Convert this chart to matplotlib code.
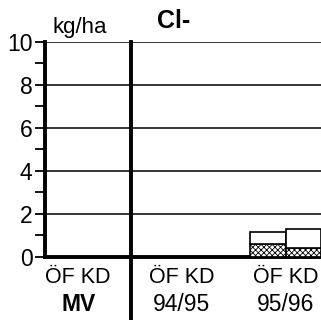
import numpy as np
import matplotlib.pyplot as plt

plt.rcParams['font.family'] = ['Liberation Sans', 'DejaVu Sans']
plt.rcParams['hatch.linewidth'] = 0.6

groups = ['MV', '94/95', '95/96']
bar_labels = 'ÖF KD'
# stacked values per group: [ÖF, KD]
lower = [[0, 0], [0, 0], [0.6, 0.4]]
upper = [[0, 0], [0, 0], [0.56, 0.9]]

fig = plt.figure(figsize=(3.21, 3.2), dpi=100)
ax = fig.add_axes([0.14, 0.197, 0.86, 0.672])

w = 0.34
x = np.arange(len(groups))
for i in range(len(groups)):
    for j in range(2):
        xpos = x[i] - w / 2 + j * w
        if lower[i][j] + upper[i][j] == 0:
            continue
        ax.bar(xpos, lower[i][j], w, color='white', edgecolor='black',
               hatch='xxxxxx', linewidth=1.2, zorder=3)
        ax.bar(xpos, upper[i][j], w, bottom=lower[i][j], color='white',
               edgecolor='black', linewidth=1.2, zorder=3)

ax.set_xlim(-0.32, 2.34)
ax.set_ylim(0, 10)
ax.set_yticks(range(0, 11, 2))
ax.set_yticks(range(1, 10, 2), minor=True)
ax.tick_params(axis='y', which='major', length=7, width=1.3, labelsize=16.5, direction='out', pad=2)
ax.tick_params(axis='y', which='minor', length=7, width=1.3, direction='out')
ax.set_xticks([])
for yv in range(2, 11, 2):
    ax.axhline(yv, color='black', linewidth=1.1, zorder=1)

for s in ['top', 'right']:
    ax.spines[s].set_visible(False)
ax.spines['left'].set_linewidth(2.8)
ax.spines['bottom'].set_linewidth(2.8)

# separator between MV and the years
ax.plot([0.51, 0.51], [10, -2.95], color='black', linewidth=2.8, clip_on=False, zorder=4)

for i, g in enumerate(groups):
    ax.text(x[i], -0.95, bar_labels, ha='center', va='center', fontsize=15.5)
    ax.text(x[i], -2.2, g, ha='center', va='center', fontsize=16.5,
            fontweight='bold' if g == 'MV' else 'normal')

fig.text(0.162, 0.897, 'kg/ha', fontsize=16, va='baseline')
fig.text(0.49, 0.9125, 'Cl-', fontsize=18, fontweight='bold', va='baseline')

fig.savefig('out.png', dpi=100)
